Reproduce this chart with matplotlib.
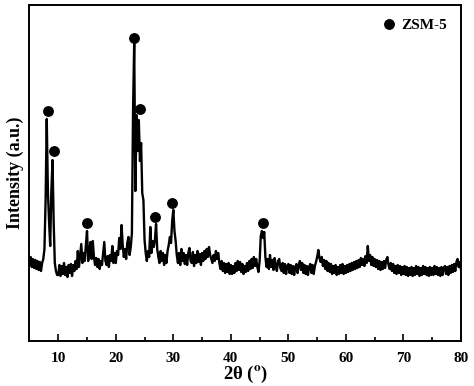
"""XRD pattern of the ZSM-5 sample, redrawn with matplotlib."""

import matplotlib

matplotlib.use("Agg")

import matplotlib.pyplot as plt  # noqa: E402
import numpy as np  # noqa: E402

# 2-theta grid of the scan (0.2 deg step, 5 to 80 deg)
two_theta = np.round(np.arange(5.0, 80.0001, 0.2), 1)

# intensity (a.u.), one list per 5-degree block
i_05 = [76, 84, 74, 82, 73, 81, 72, 80, 71, 79, 70, 78, 82, 92, 140,
        222, 150, 120, 95, 150, 181, 120, 78, 70, 66]
i_10 = [66, 76, 65, 75, 67, 78, 66, 74, 64, 76, 68, 77, 65, 76, 70,
        80, 72, 90, 74, 86, 97, 78, 88, 80, 96]
i_15 = [110, 80, 90, 99, 82, 100, 84, 76, 83, 74, 82, 72, 80, 76, 88,
        99, 80, 76, 85, 74, 86, 80, 95, 78, 88]
i_20 = [78, 90, 86, 103, 92, 116, 96, 84, 92, 82, 98, 104, 86, 94, 108,
        230, 298, 150, 226, 190, 221, 180, 198, 148, 141]
i_25 = [101, 88, 80, 90, 84, 114, 88, 100, 94, 101, 117, 92, 84, 78, 90,
        80, 88, 76, 86, 78, 90, 96, 104, 98, 120]
i_30 = [131, 110, 100, 86, 78, 88, 76, 92, 80, 88, 77, 86, 76, 88, 93,
        80, 78, 89, 75, 86, 78, 90, 79, 87, 76]
i_35 = [88, 80, 90, 82, 92, 84, 94, 86, 82, 78, 86, 80, 90, 82, 88,
        78, 72, 80, 70, 78, 68, 77, 69, 78, 67]
i_40 = [76, 67, 75, 68, 78, 70, 80, 71, 79, 69, 77, 67, 75, 69, 78,
        70, 80, 72, 82, 73, 84, 75, 82, 74, 69]
i_45 = [80, 105, 110, 103, 109, 84, 74, 82, 72, 86, 74, 81, 71, 83, 75,
        70, 80, 82, 73, 70, 78, 68, 77, 67, 75]
i_50 = [77, 68, 76, 67, 75, 66, 74, 77, 68, 76, 80, 71, 78, 68, 76,
        67, 75, 66, 74, 77, 68, 76, 67, 75, 79]
i_55 = [84, 91, 83, 79, 84, 75, 81, 72, 80, 70, 78, 69, 77, 67, 75,
        68, 76, 66, 74, 67, 76, 68, 77, 67, 75]
i_60 = [68, 76, 69, 77, 70, 78, 71, 79, 72, 80, 73, 81, 74, 83, 76,
        82, 75, 85, 78, 95, 80, 86, 76, 84, 75]
i_65 = [82, 74, 81, 72, 80, 71, 79, 72, 80, 73, 81, 84, 76, 72, 78,
        70, 77, 68, 75, 67, 76, 68, 75, 66, 74]
i_70 = [67, 75, 66, 74, 65, 73, 66, 74, 65, 73, 66, 75, 67, 74, 65,
        73, 66, 75, 67, 74, 66, 73, 65, 74, 66]
i_75 = [73, 66, 75, 67, 74, 66, 73, 65, 74, 66, 73, 75, 67, 74, 66,
        75, 68, 76, 69, 77, 70, 79, 82, 74, 79, 71]

intensity = np.array(i_05 + i_10 + i_15 + i_20 + i_25 + i_30 + i_35 + i_40
                     + i_45 + i_50 + i_55 + i_60 + i_65 + i_70 + i_75,
                     dtype=float)

# ZSM-5 reflections marked with dots
zsm5_pos = [8.25, 9.3, 14.95, 23.2, 24.2, 26.8, 29.75, 45.55]
zsm5_mark = [230, 190, 118, 303, 232, 124, 138, 118]

plt.rcParams["font.family"] = ["Liberation Serif", "DejaVu Serif"]
plt.rcParams["font.weight"] = "bold"
plt.rcParams["mathtext.fontset"] = "stix"

fig = plt.figure(figsize=(4.74, 3.86), dpi=100)
ax = fig.add_axes([0.0622, 0.1166, 0.9104, 0.8704])

ax.plot(two_theta, intensity, color="black", linewidth=1.7)
ax.plot(zsm5_pos, zsm5_mark, linestyle="none", marker="o", markersize=6.8,
        color="black", label="ZSM-5")

ax.set_xlim(5, 80)
ax.set_ylim(0, 336)
ax.set_xticks(np.arange(10, 81, 10))
ax.set_xticks(np.arange(15, 80, 10), minor=True)
ax.set_yticks([])
ax.tick_params(axis="x", which="major", direction="in", length=5, width=1.2,
               labelsize=11, pad=8)
ax.tick_params(axis="x", which="minor", direction="in", length=3, width=1.2)
for spine in ax.spines.values():
    spine.set_linewidth(1.4)

ax.set_xlabel(r"2θ ($^{\mathrm{o}}$)", fontsize=13.5, fontweight="bold",
              labelpad=-1)
ax.set_ylabel("Intensity (a.u.)", fontsize=13, fontweight="bold",
              labelpad=4)

ax.legend(loc="upper right", frameon=False, handletextpad=0.3,
          fontsize=11, borderaxespad=0.5, handlelength=1.0)

fig.savefig("out.png", dpi=100)
